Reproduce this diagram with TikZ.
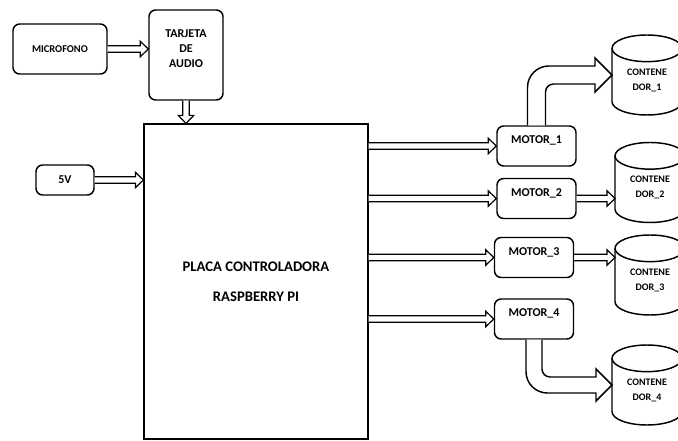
\documentclass[tikz,border=0pt]{standalone}
\usepackage{fontspec}
\setmainfont{Carlito}
\usetikzlibrary{calc}
\newcommand\drawcyl[1]{%
  \draw[line width=1.1pt, fill=white]
    ([yshift=-10pt]#1.north west) -- ([yshift=10pt]#1.south west)
    arc[start angle=180, end angle=360, x radius=26.25pt, y radius=10pt]
    -- ([yshift=-10pt]#1.north east)
    arc[start angle=0, end angle=180, x radius=26.25pt, y radius=10pt] -- cycle;
  \draw[line width=1.1pt] ([yshift=-10pt]#1.north east)
    arc[start angle=0, end angle=-180, x radius=26.25pt, y radius=10pt];}
% hollow block arrow from #1 to #2
\newcommand\blockarrow[2]{%
  \coordinate (ba-c) at ($(#2)!6pt!(#1)$);
  \draw[thinarrow] ($(#1)!2.5pt!90:(#2)$) -- ($(ba-c)!2.5pt!-90:(#1)$)
    -- ($(ba-c)!5.8pt!-90:(#1)$) -- (#2) -- ($(ba-c)!5.8pt!90:(#1)$)
    -- ($(ba-c)!2.5pt!90:(#1)$) -- ($(#1)!2.5pt!-90:(#2)$);}
\begin{document}
\begin{tikzpicture}[x=0.75pt,y=-0.75pt,
  box/.style={draw, line width=1.1pt, rounded corners=5pt, align=center, inner sep=0pt,
    font=\bfseries\fontsize{9}{11.25}\selectfont},
  mbox/.style={box, minimum width=59.25pt, minimum height=30pt, text height=6pt, text depth=9pt},
  cylnode/.style={minimum width=52.5pt, minimum height=60pt, inner sep=0pt, outer sep=0pt},
  ctext/.style={font=\bfseries\fontsize{7.5}{11.25}\selectfont, align=center, inner sep=0pt},
  btext/.style={font=\bfseries\fontsize{9}{11.25}\selectfont, align=center, inner sep=0pt},
  thinarrow/.style={draw, line width=0.9pt, fill=white, line join=miter},
  fat/.style={draw, line width=1.1pt, fill=white},
]
\useasboundingbox (0,0) rectangle (678,441);
\clip (0,0) rectangle (678,441);

% boxes
\node[box, minimum width=70.5pt, minimum height=37.5pt, font=\bfseries\fontsize{7.8}{10}\selectfont] (mic) at (60,49) {MICROFONO};
\node[box, minimum width=55.5pt, minimum height=67.5pt] (tarjeta) at (186,55) {};
\node[btext] (tarjetat) at ([yshift=5pt]tarjeta.center) {TARJETA\\DE\\AUDIO};
\node[box, minimum width=43.5pt, minimum height=22.5pt] (v5) at (65,180) {5V};
\node[draw, line width=0.9pt, minimum width=168pt, minimum height=236.25pt, inner sep=0pt,
  align=center, font=\bfseries\fontsize{11}{22.5}\selectfont] (placa) at (256,281.5)
  {PLACA CONTROLADORA\\RASPBERRY PI};

\node[mbox] (m1) at (536.5,146) {MOTOR\_1};
\node[mbox] (m2) at (536.5,198.5) {MOTOR\_2};
\node[mbox] (m3) at (534,257.5) {MOTOR\_3};
\node[mbox] (m4) at (534,319) {MOTOR\_4};

% containers
\node[cylnode] (c1) at (647,75) {};
\drawcyl{c1}
\node[ctext] (c1t) at ([yshift=-4pt]c1.center) {CONTENE\\DOR\_1};
\node[cylnode] (c2) at (650,182.5) {};
\drawcyl{c2}
\node[ctext] (c2t) at ([yshift=-4pt]c2.center) {CONTENE\\DOR\_2};
\node[cylnode] (c3) at (650,275) {};
\drawcyl{c3}
\node[ctext] (c3t) at ([yshift=-4pt]c3.center) {CONTENE\\DOR\_3};
\node[cylnode] (c4) at (647,385) {};
\drawcyl{c4}
\node[ctext] (c4t) at ([yshift=-4pt]c4.center) {CONTENE\\DOR\_4};

% hollow double arrows
\coordinate (e-mic) at (mic.east -| tarjeta.west);
\blockarrow{mic.east}{e-mic}
\coordinate (e-tar) at (tarjeta.south |- placa.north);
\blockarrow{tarjeta.south}{e-tar}
\coordinate (e-v5) at (v5.east -| placa.west);
\blockarrow{v5.east}{e-v5}
\coordinate (s-m1) at (placa.east |- m1.west);
\blockarrow{s-m1}{m1.west}
\coordinate (s-m2) at (placa.east |- m2.west);
\blockarrow{s-m2}{m2.west}
\coordinate (s-m3) at (placa.east |- m3.west);
\blockarrow{s-m3}{m3.west}
\coordinate (s-m4) at (placa.east |- m4.west);
\blockarrow{s-m4}{m4.west}
\coordinate (e-c2) at (m2.east -| c2.west);
\blockarrow{m2.east}{e-c2}
\coordinate (e-c3) at (m3.east -| c3.west);
\blockarrow{m3.east}{e-c3}

% fat arrow motor 1 -> container 1
\coordinate (m1a) at ($(m1.north)+(-9,0)$);
\coordinate (m1b) at ($(m1.north)+(9,0)$);
\coordinate (t1) at (c1.west);
\coordinate (t1u) at ($(t1)+(0,-9)$);
\coordinate (t1d) at ($(t1)+(0,9)$);
\coordinate (h1) at ($(t1)+(-17,0)$);
\draw[fat] (m1a) [rounded corners=16pt] -- (m1a |- t1u) [sharp corners] -- (h1 |- t1u)
  -- ($(h1)+(0,-17)$) -- (t1) -- ($(h1)+(0,17)$) -- (h1 |- t1d)
  [rounded corners=6pt] -- (m1b |- t1d) [sharp corners] -- (m1b);

% fat arrow motor 4 -> container 4
\coordinate (m4a) at ($(m4.south)+(-8,0)$);
\coordinate (m4b) at ($(m4.south)+(8,0)$);
\coordinate (t4) at (c4.west);
\coordinate (t4u) at ($(t4)+(0,-8)$);
\coordinate (t4d) at ($(t4)+(0,8)$);
\coordinate (h4) at ($(t4)+(-16,0)$);
\draw[fat] (m4a) [rounded corners=16pt] -- (m4a |- t4d) [sharp corners] -- (h4 |- t4d)
  -- ($(h4)+(0,16)$) -- (t4) -- ($(h4)+(0,-16)$) -- (h4 |- t4u)
  [rounded corners=6pt] -- (m4b |- t4u) [sharp corners] -- (m4b);
\end{tikzpicture}
\end{document}
